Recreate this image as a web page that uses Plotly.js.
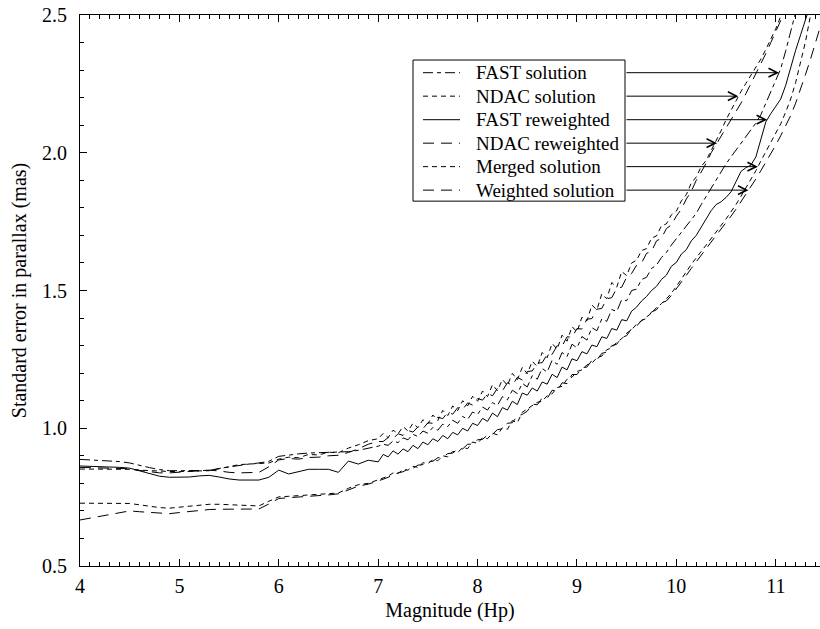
<!DOCTYPE html>
<html>
<head>
<meta charset="utf-8">
<script src="https://cdn.plot.ly/plotly-3.0.1.min.js"></script>
<style>html,body{margin:0;padding:0;background:#fff;}#chart{width:820px;height:629px;}</style>
</head>
<body>
<div id="chart"></div>
<script>
// Magnitude grid (Hp)
var mag = [4.0,4.1,4.2,4.3,4.4,4.5,4.6,4.7,4.8,4.9,5.0,5.1,5.2,5.3,5.4,5.5,5.6,5.7,5.8,5.9,6.0,6.1,6.2,6.3,6.4,6.5,6.6,6.7,6.8,6.9,7.0,
7.05,7.1,7.15,7.2,7.25,7.3,7.35,7.4,7.45,7.5,7.55,7.6,7.65,7.7,7.75,7.8,7.85,7.9,7.95,8.0,
8.05,8.1,8.15,8.2,8.25,8.3,8.35,8.4,8.45,8.5,8.55,8.6,8.65,8.7,8.75,8.8,8.85,8.9,8.95,9.0,
9.05,9.1,9.15,9.2,9.25,9.3,9.35,9.4,9.45,9.5,9.55,9.6,9.65,9.7,9.75,9.8,9.85,9.9,9.95,10.0,
10.05,10.1,10.15,10.2,10.25,10.3,10.35,10.4,10.45,10.5,10.55,10.6,10.65,10.7,10.75,10.8,10.85,10.9,10.95,11.0,
11.05,11.1,11.15,11.2,11.25,11.3,11.35,11.4,11.45];

// FAST solution
var fastSolution = [0.887,0.885,0.883,0.881,0.879,0.874,0.865,0.857,0.850,0.846,0.846,0.846,0.846,0.847,0.854,0.860,0.866,0.870,0.874,0.880,0.898,0.903,0.907,0.910,0.911,0.913,0.912,0.915,0.920,0.928,0.935,
0.942,0.938,0.954,0.948,0.965,0.958,0.978,0.970,0.990,0.982,1.003,0.993,1.015,1.006,1.029,1.018,1.043,1.032,1.059,1.050,
1.077,1.066,1.093,1.083,1.115,1.103,1.138,1.126,1.163,1.150,1.191,1.178,1.217,1.204,1.247,1.232,1.275,1.260,1.305,1.292,
1.333,1.320,1.365,1.354,1.397,1.388,1.431,1.424,1.467,1.463,1.500,1.505,1.540,1.548,1.580,1.592,1.620,1.638,1.665,1.688,
1.712,1.735,1.758,1.780,1.812,1.842,1.870,1.900,1.930,1.960,1.985,2.010,2.035,2.060,2.085,2.108,2.138,2.180,2.220,2.262,
2.305,2.370,2.440,2.510,null,null,null,null,null];

// NDAC solution
var ndacSolution = [0.852,0.852,0.852,0.852,0.852,0.851,0.848,0.846,0.844,0.843,0.843,0.844,0.845,0.846,0.853,0.861,0.868,0.870,0.871,0.874,0.888,0.895,0.893,0.905,0.903,0.913,0.911,0.928,0.940,0.955,0.962,
0.981,0.966,0.993,0.980,1.006,0.990,1.018,1.002,1.031,1.016,1.048,1.028,1.065,1.046,1.081,1.064,1.100,1.081,1.116,1.098,
1.135,1.115,1.158,1.136,1.177,1.156,1.199,1.176,1.221,1.198,1.243,1.224,1.275,1.256,1.308,1.287,1.338,1.316,1.369,1.350,
1.403,1.390,1.447,1.430,1.488,1.470,1.529,1.512,1.569,1.554,1.600,1.610,1.645,1.652,1.690,1.698,1.735,1.742,1.775,1.788,
1.825,1.848,1.890,1.912,1.950,1.972,2.008,2.040,2.080,2.120,2.155,2.190,2.222,2.252,2.280,2.310,2.340,2.375,2.410,2.450,
2.495,2.540,null,null,null,null,null,null,null];

// FAST reweighted
var fastReweighted = [0.863,0.862,0.861,0.860,0.858,0.855,0.845,0.835,0.826,0.822,0.822,0.823,0.827,0.829,0.823,0.816,0.812,0.812,0.812,0.822,0.848,0.834,0.843,0.851,0.851,0.851,0.840,0.881,0.870,0.884,0.878,
0.905,0.896,0.918,0.906,0.925,0.915,0.938,0.926,0.950,0.940,0.962,0.952,0.974,0.962,0.985,0.976,1.000,0.990,1.018,1.010,
1.036,1.025,1.055,1.042,1.075,1.066,1.098,1.086,1.128,1.120,1.146,1.135,1.168,1.160,1.196,1.184,1.222,1.212,1.252,1.245,
1.278,1.270,1.302,1.296,1.332,1.326,1.362,1.356,1.394,1.390,1.425,1.440,1.462,1.478,1.500,1.515,1.540,1.556,1.588,1.602,
1.632,1.648,1.680,1.700,1.730,1.762,1.790,1.812,1.822,1.838,1.858,1.895,1.932,1.946,1.955,1.985,2.050,2.112,2.142,2.168,
2.195,2.245,2.310,2.372,2.428,2.480,2.540,null,null];

// NDAC reweighted
var ndacReweighted = [0.858,0.857,0.856,0.855,0.855,0.853,0.847,0.842,0.838,0.838,0.840,0.842,0.845,0.848,0.845,0.840,0.838,0.838,0.840,0.860,0.885,0.890,0.888,0.894,0.895,0.900,0.902,0.912,0.925,0.942,0.952,
0.952,0.966,0.962,0.980,0.974,0.992,0.986,1.005,0.998,1.020,1.018,1.040,1.035,1.058,1.051,1.075,1.068,1.092,1.084,1.108,
1.102,1.126,1.118,1.145,1.136,1.165,1.156,1.185,1.175,1.206,1.208,1.236,1.238,1.268,1.268,1.300,1.298,1.332,1.330,1.362,
1.360,1.396,1.398,1.432,1.435,1.470,1.474,1.508,1.512,1.548,1.562,1.592,1.600,1.635,1.642,1.680,1.690,1.725,1.738,1.770,
1.795,1.832,1.860,1.900,1.930,1.962,2.000,2.030,2.055,2.085,2.115,2.148,2.180,2.215,2.250,2.290,2.325,2.360,2.400,2.440,
2.480,2.520,null,null,null,null,null,null,null];

// Merged solution
var mergedSolution = [0.728,0.728,0.728,0.727,0.727,0.727,0.722,0.717,0.712,0.710,0.713,0.717,0.721,0.724,0.724,0.722,0.721,0.719,0.718,0.735,0.751,0.753,0.755,0.757,0.760,0.762,0.765,0.782,0.795,0.800,0.813,
0.822,0.826,0.838,0.836,0.850,0.848,0.862,0.858,0.875,0.872,0.885,0.882,0.900,0.896,0.916,0.912,0.930,0.926,0.950,0.945,
0.966,0.962,0.982,0.976,1.002,0.996,1.028,1.020,1.058,1.070,1.080,1.094,1.098,1.118,1.125,1.148,1.152,1.178,1.185,1.206,
1.212,1.230,1.236,1.256,1.262,1.285,1.292,1.312,1.325,1.345,1.358,1.378,1.390,1.405,1.418,1.438,1.452,1.470,1.490,1.515,
1.540,1.568,1.595,1.620,1.642,1.665,1.690,1.712,1.736,1.760,1.785,1.812,1.842,1.872,1.905,1.935,1.970,2.003,2.035,2.068,
2.105,2.148,2.195,2.255,2.325,2.405,2.500,2.560,null];

// Weighted solution
var weightedSolution = [0.667,0.674,0.681,0.688,0.695,0.700,0.697,0.694,0.691,0.690,0.694,0.698,0.702,0.705,0.706,0.706,0.706,0.706,0.707,0.725,0.745,0.748,0.750,0.752,0.755,0.758,0.762,0.776,0.790,0.797,0.808,
0.815,0.822,0.830,0.838,0.842,0.852,0.855,0.866,0.868,0.880,0.880,0.893,0.895,0.908,0.910,0.925,0.925,0.942,0.942,0.958,
0.960,0.975,0.978,0.995,0.998,1.018,1.020,1.045,1.050,1.062,1.088,1.085,1.110,1.108,1.138,1.135,1.165,1.162,1.195,1.195,
1.220,1.222,1.246,1.248,1.272,1.276,1.300,1.305,1.330,1.336,1.362,1.370,1.392,1.398,1.422,1.430,1.455,1.462,1.482,1.505,
1.530,1.555,1.580,1.605,1.628,1.652,1.676,1.700,1.722,1.745,1.770,1.795,1.822,1.850,1.878,1.905,1.935,1.965,1.995,2.028,
2.062,2.098,2.135,2.180,2.230,2.285,2.340,2.400,2.460];

var seriesNames = ['FAST solution','NDAC solution','FAST reweighted','NDAC reweighted','Merged solution','Weighted solution'];
var seriesDash = ['10px,4px,4px,4px','5px,4px','solid','11px,7px','5px,4px','11px,7px'];
// value level (mas) at which each legend entry's arrow runs
var arrowLevels = [2.2906,2.2054,2.1200,2.0348,1.9496,1.8643];
var arrowTailMag = 9.483;

var seriesValues = [fastSolution, ndacSolution, fastReweighted, ndacReweighted, mergedSolution, weightedSolution];

var traces = seriesValues.map(function(vals, i){
  return {
    x: mag, y: vals, name: seriesNames[i], type: 'scatter', mode: 'lines',
    line: {color: '#000', width: 1, dash: seriesDash[i]},
    connectgaps: false, showlegend: false, hoverinfo: 'skip'
  };
});

function crossing(vals, level){
  for (var k = 1; k < vals.length; k++){
    var a = vals[k-1], b = vals[k];
    if (a === null || b === null) continue;
    if (a < level && b >= level){
      return mag[k-1] + (level - a) / (b - a) * (mag[k] - mag[k-1]);
    }
  }
  return null;
}

var YMIN = 0.5, YMAX = 2.5;
function levelToPaper(v){ return (v - YMIN) / (YMAX - YMIN); }

var font = {family: '"Liberation Serif", "Times New Roman", serif', size: 20, color: '#000'};
var legendFont = {family: font.family, size: 19, color: '#000'};

var annotations = [];
var shapes = [];
// legend box (drawn manually so that arrows start from its right edge)
var boxX0 = 0.45, boxX1 = 0.7365;
var boxY0 = levelToPaper(arrowLevels[5]) - 0.0200, boxY1 = levelToPaper(arrowLevels[0]) + 0.0230;
shapes.push({type: 'rect', xref: 'paper', yref: 'paper', x0: boxX0, x1: boxX1, y0: boxY0, y1: boxY1,
  line: {color: '#000', width: 1}, fillcolor: '#fff', layer: 'above'});

seriesValues.forEach(function(vals, i){
  var py = levelToPaper(arrowLevels[i]);
  shapes.push({type: 'line', xref: 'paper', yref: 'paper', x0: 0.4635, x1: 0.5135, y0: py, y1: py,
    line: {color: '#000', width: 1, dash: seriesDash[i]}, layer: 'above'});
  annotations.push({xref: 'paper', yref: 'paper', x: 0.5325, y: py, xanchor: 'left', yanchor: 'middle',
    text: seriesNames[i], showarrow: false, font: legendFont});
  annotations.push({
    x: crossing(vals, arrowLevels[i]), y: arrowLevels[i],
    ax: arrowTailMag, ay: arrowLevels[i], axref: 'x', ayref: 'y', xref: 'x', yref: 'y',
    showarrow: true, arrowhead: 5, arrowsize: 1.7, arrowwidth: 1, arrowcolor: '#000', text: ''
  });
});

var layout = {
  width: 820, height: 629,
  margin: {l: 80, r: 0, t: 15, b: 63},
  paper_bgcolor: '#fff', plot_bgcolor: '#fff',
  font: font,
  showlegend: false,
  xaxis: {
    range: [4, 11.445], tick0: 4, dtick: 1,
    ticks: 'inside', ticklen: 7, tickwidth: 1, tickcolor: '#000',
    minor: {dtick: 0.1, ticks: 'inside', ticklen: 4, tickwidth: 1, tickcolor: '#000'},
    showline: true, linecolor: '#000', linewidth: 1, mirror: 'ticks',
    showgrid: false, zeroline: false,
    ticklabelstandoff: 2,
    tickfont: font,
    title: {text: 'Magnitude (Hp)', font: font, standoff: 6}
  },
  yaxis: {
    range: [YMIN, YMAX], tick0: 0.5, dtick: 0.5, tickformat: '.1f',
    ticks: 'inside', ticklen: 7, tickwidth: 1, tickcolor: '#000',
    minor: {dtick: 0.1, ticks: 'inside', ticklen: 4, tickwidth: 1, tickcolor: '#000'},
    showline: true, linecolor: '#000', linewidth: 1, mirror: false,
    showgrid: false, zeroline: false,
    ticklabelstandoff: 8,
    tickfont: font,
    title: {text: 'Standard error in parallax (mas)', font: font, standoff: 10}
  },
  shapes: shapes,
  annotations: annotations
};

Plotly.newPlot('chart', traces, layout, {displayModeBar: false, staticPlot: true});
</script>
</body>
</html>
